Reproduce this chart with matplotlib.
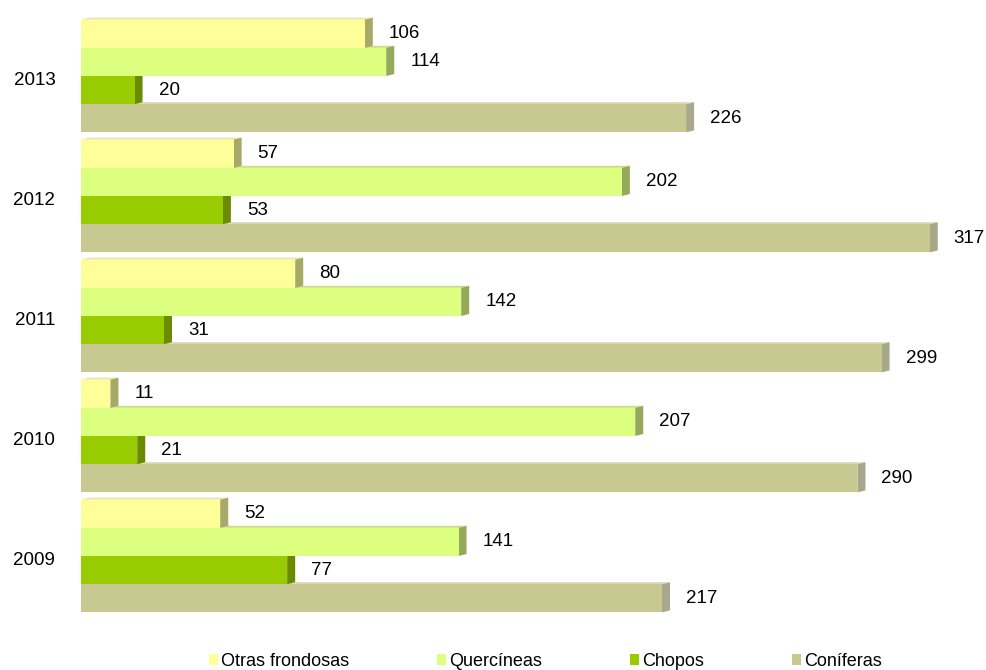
import numpy as np
import matplotlib
matplotlib.use("Agg")
import matplotlib.pyplot as plt
from matplotlib.patches import Polygon, Patch

plt.rcParams['font.family'] = ['Liberation Sans', 'DejaVu Sans']

years = ['2009', '2010', '2011', '2012', '2013']
series = ['Otras frondosas', 'Quercíneas', 'Chopos', 'Coníferas']
otras = [52, 11, 80, 57, 106]
quercineas = [141, 207, 142, 202, 114]
chopos = [77, 21, 31, 53, 20]
coniferas = [217, 290, 299, 317, 226]
values = [otras, quercineas, chopos, coniferas]

front_colors = ['#FFFF99', '#DDFF80', '#99CC00', '#C8C891']
side_colors = ['#A9A967', '#95A95A', '#6A8A00', '#A8A88A']
top_colors = ['#E6E6A8', '#C8E07A', '#88B000', '#D8D8B0']

fig = plt.figure(figsize=(9.86, 6.70), dpi=100)
ax_left, ax_bottom = 81 / 986, 30 / 670
ax_w, ax_h = 905 / 986, 630 / 670
ax = fig.add_axes([ax_left, ax_bottom, ax_w, ax_h])
xmax = 338
ax.set_xlim(0, xmax)
ax.set_ylim(-0.7, 4.55)

# depth of the fake 3D effect, in data units
dx = 8 * xmax / 905
dy = 2 * 5.25 / 630

bar_h = 0.235
offsets = [1.5 * bar_h, 0.5 * bar_h, -0.5 * bar_h, -1.5 * bar_h]
y = np.arange(len(years))

for k, vals in enumerate(values):
    yk = y + offsets[k]
    ax.barh(yk, vals, height=bar_h, color=front_colors[k], zorder=3, linewidth=0)
    for yi, v in zip(yk, vals):
        y0, y1 = yi - bar_h / 2, yi + bar_h / 2
        side = Polygon([(v, y0), (v + dx, y0 + dy), (v + dx, y1 + dy), (v, y1)],
                       closed=True, facecolor=side_colors[k], edgecolor='none', zorder=2)
        top = Polygon([(0, y1), (v, y1), (v + dx, y1 + dy), (dx, y1 + dy)],
                      closed=True, facecolor=top_colors[k], edgecolor='none', zorder=1)
        ax.add_patch(side)
        ax.add_patch(top)
        ax.annotate(str(v), xy=(v, yi), xytext=(24, 0), textcoords='offset pixels',
                    ha='left', va='center', fontsize=13.5, color='black')

ax.set_yticks(y - 0.02)
ax.set_yticklabels(years, fontsize=13.5)
ax.set_xticks([])
ax.tick_params(axis='y', length=0, pad=18.5)
for s in ax.spines.values():
    s.set_visible(False)

handles = [Patch(facecolor=c, edgecolor='none') for c in front_colors]
fig.legend(handles, series, loc='center', bbox_to_anchor=(0.553, 0.013), ncol=4,
           frameon=False, fontsize=13, handlelength=0.5, handleheight=0.5,
           handletextpad=0.15, columnspacing=4.9, borderpad=0)

fig.savefig('out.png', dpi=100)
